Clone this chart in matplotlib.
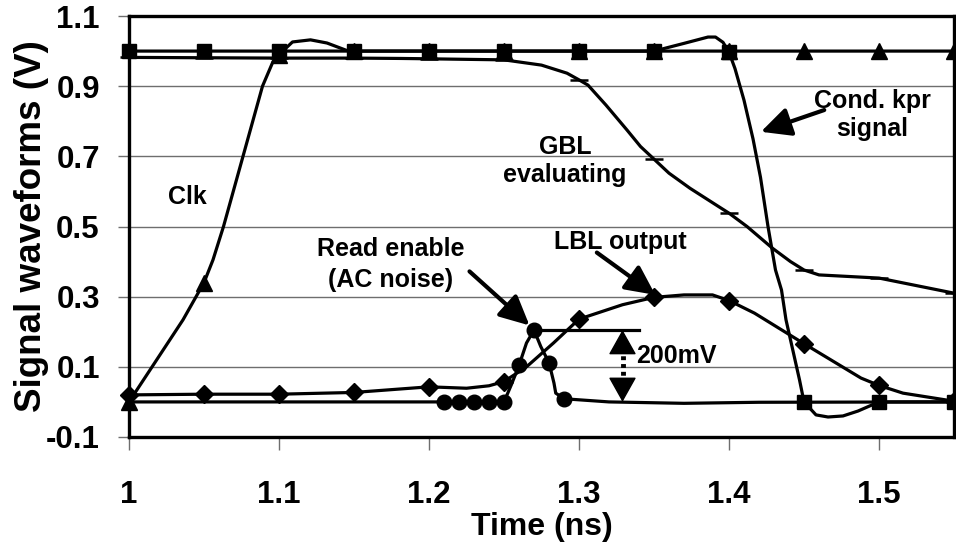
import numpy as np
import matplotlib
matplotlib.use("Agg")
import matplotlib.pyplot as plt

plt.rcParams['font.family'] = ['Liberation Sans', 'DejaVu Sans']
plt.rcParams['font.weight'] = 'bold'

# ---- waveform samples (time in ns, voltage in V) ----
# Clock
clk_t = [1.0, 1.036, 1.05, 1.056, 1.063, 1.076, 1.089, 1.096, 1.1, 1.109, 1.121,
         1.132, 1.145, 1.15, 1.2, 1.25, 1.3, 1.35, 1.4, 1.45, 1.5, 1.55]
clk_v = [0.0, 0.234, 0.34, 0.405, 0.50, 0.70, 0.90, 0.97, 0.99, 1.026, 1.032,
         1.023, 1.002, 1.0, 1.0, 1.0, 1.0, 1.0, 1.0, 1.0, 1.0, 1.0]

# Global bit line
gbl_t = [1.0, 1.05, 1.1, 1.15, 1.181, 1.2, 1.216, 1.25, 1.275, 1.292, 1.3, 1.306,
         1.318, 1.332, 1.341, 1.35, 1.36, 1.374, 1.393, 1.4, 1.412, 1.429, 1.441,
         1.45, 1.46, 1.5, 1.55]
gbl_v = [0.982, 0.981, 0.98, 0.98, 0.979, 0.978, 0.977, 0.975, 0.96, 0.937, 0.918, 0.903,
         0.846, 0.775, 0.728, 0.692, 0.652, 0.609, 0.557, 0.538, 0.50, 0.438, 0.40,
         0.376, 0.362, 0.353, 0.31]

# Local bit line output
lbl_t = [1.0, 1.05, 1.1, 1.15, 1.2, 1.225, 1.24, 1.25, 1.265, 1.283, 1.3, 1.329,
         1.35, 1.37, 1.389, 1.4, 1.417, 1.45, 1.488, 1.5, 1.516, 1.55]
lbl_v = [0.02, 0.022, 0.022, 0.027, 0.043, 0.039, 0.046, 0.058, 0.10, 0.168, 0.236, 0.277,
         0.298, 0.305, 0.305, 0.289, 0.253, 0.166, 0.068, 0.047, 0.025, 0.002]

# Read enable (coupled AC noise)
rd_t = [1.0, 1.21, 1.22, 1.23, 1.24, 1.25, 1.255, 1.26, 1.265, 1.27, 1.2745, 1.28,
        1.2833, 1.2845, 1.29, 1.32, 1.37, 1.42, 1.55]
rd_v = [0.0, 0.0, 0.0, 0.0, 0.0, 0.0, 0.05, 0.104, 0.168, 0.205, 0.158, 0.112,
        0.054, 0.025, 0.009, 0.0, -0.004, -0.001, 0.0]

# Conditional keeper signal
kpr_t = [1.0, 1.05, 1.1, 1.15, 1.2, 1.25, 1.3, 1.35, 1.37, 1.386, 1.391, 1.396, 1.4,
         1.404, 1.41, 1.416, 1.421, 1.426, 1.431, 1.435, 1.438, 1.443, 1.447, 1.45,
         1.458, 1.466, 1.476, 1.486, 1.5, 1.55]
kpr_v = [1.0, 1.0, 1.0, 1.0, 1.0, 1.0, 1.0, 1.0, 1.022, 1.04, 1.04, 1.025, 0.997,
         0.95, 0.86, 0.75, 0.64, 0.50, 0.376, 0.319, 0.234, 0.139, 0.063, 0.0,
         -0.037, -0.043, -0.04, -0.026, 0.0, 0.0]

# sample instants that carry a marker
step_marks = [1.0, 1.05, 1.1, 1.15, 1.2, 1.25, 1.3, 1.35, 1.4, 1.45, 1.5, 1.55]
rd_marks = [1.21, 1.22, 1.23, 1.24, 1.25, 1.26, 1.27, 1.28, 1.29]

x_ticks = [1.0, 1.1, 1.2, 1.3, 1.4, 1.5]
x_ticklabels = ['1', '1.1', '1.2', '1.3', '1.4', '1.5']
y_ticks = [-0.1, 0.1, 0.3, 0.5, 0.7, 0.9, 1.1]
y_ticklabels = ['-0.1', '0.1', '0.3', '0.5', '0.7', '0.9', '1.1']


def mark_idx(t, marks):
    return [i for i, x in enumerate(t) if any(abs(x - m) < 1e-6 for m in marks)]


W, H = 956, 548
fig = plt.figure(figsize=(W / 100, H / 100), dpi=100)
L, R, T, B = 129, 954, 16, 437
ax = fig.add_axes([L / W, 1 - B / H, (R - L) / W, (B - T) / H])

ax.set_xlim(1.0, 1.55)
ax.set_ylim(-0.1, 1.1)

for y in y_ticks[1:-1]:
    ax.axhline(y, color='#6e6e6e', lw=1.0, zorder=0)

lw = 2.3
common = dict(color='black', lw=lw, clip_on=False)
ax.plot(clk_t, clk_v, marker='^', ms=11, markevery=mark_idx(clk_t, step_marks), zorder=2, **common)
ax.plot(gbl_t, gbl_v, marker='_', ms=13, mew=1.8, markevery=mark_idx(gbl_t, step_marks), zorder=3, **common)
ax.plot(lbl_t, lbl_v, marker='D', ms=9, markevery=mark_idx(lbl_t, step_marks), zorder=4, **common)
ax.plot(rd_t, rd_v, marker='o', ms=10.5, markevery=mark_idx(rd_t, rd_marks), zorder=5, **common)
ax.plot(kpr_t, kpr_v, marker='s', ms=10.5, markevery=mark_idx(kpr_t, step_marks), zorder=6, **common)

# ticks and frame
ax.set_xticks(x_ticks)
ax.set_xticklabels(x_ticklabels)
ax.set_yticks(y_ticks)
ax.set_yticklabels(y_ticklabels)
ax.tick_params(axis='x', direction='out', length=9, width=1, color='#6e6e6e', pad=22, labelsize=22.5)
ax.tick_params(axis='y', direction='out', length=8, width=1, color='#6e6e6e', pad=13, labelsize=22.5)
for s in ax.spines.values():
    s.set_linewidth(2.4)
    s.set_color('black')

ax.set_xlabel('Time (ns)', fontsize=23, fontweight='bold')
ax.xaxis.set_label_coords(0.5, -0.214)
ax.xaxis.label.set_va('center')
ax.set_ylabel('Signal waveforms (V)', fontsize=26.5, fontweight='bold')
ax.yaxis.set_label_coords(-0.1176, 0.5)
ax.yaxis.label.set_va('center')

# labels on the curves
fs = 18
ax.text(1.0392, 0.584, 'Clk', fontsize=fs, ha='center', va='center')
ax.text(1.2907, 0.687, 'GBL\nevaluating', fontsize=fs, ha='center', va='center', linespacing=1.25)
ax.text(1.4953, 0.818, 'Cond. kpr\nsignal', fontsize=fs, ha='center', va='center', linespacing=1.2)
ax.text(1.1747, 0.391, 'Read enable\n(AC noise)', fontsize=fs, ha='center', va='center', linespacing=1.35)
ax.text(1.3278, 0.457, 'LBL output', fontsize=fs, ha='center', va='center')

arrow = dict(arrowstyle='-|>,head_length=0.45,head_width=0.22', color='black', lw=3,
             mutation_scale=40, shrinkA=0, shrinkB=0)
ax.annotate('', xy=(1.4213, 0.770), xytext=(1.4635, 0.832), arrowprops=arrow, zorder=7)
ax.annotate('', xy=(1.267, 0.218), xytext=(1.227, 0.372), arrowprops=arrow, zorder=7)
ax.annotate('', xy=(1.3509, 0.305), xytext=(1.3119, 0.4257), arrowprops=arrow, zorder=7)

# noise amplitude bracket
peak_i = int(np.argmax(rd_v))
peak_t, peak_v = rd_t[peak_i], rd_v[peak_i]
base_v = 0.0
ax.plot([peak_t, 1.34], [peak_v, peak_v], color='black', lw=2.3, zorder=6)
bx = 1.329
head = dict(arrowstyle='-|>,head_length=0.5,head_width=0.28', color='black', lw=1,
            mutation_scale=32, shrinkA=0, shrinkB=0)
ax.annotate('', xy=(bx, peak_v), xytext=(bx, peak_v - 0.045), arrowprops=head)
ax.annotate('', xy=(bx, base_v), xytext=(bx, base_v + 0.045), arrowprops=head)
ax.plot([bx, bx], [peak_v - 0.05, base_v + 0.05], color='black', lw=3.5,
        linestyle=(0, (0.8, 0.8)), zorder=6)
ax.text(1.3379, 0.131, '200mV', fontsize=fs, ha='left', va='center')

fig.savefig('out.png', dpi=100)
